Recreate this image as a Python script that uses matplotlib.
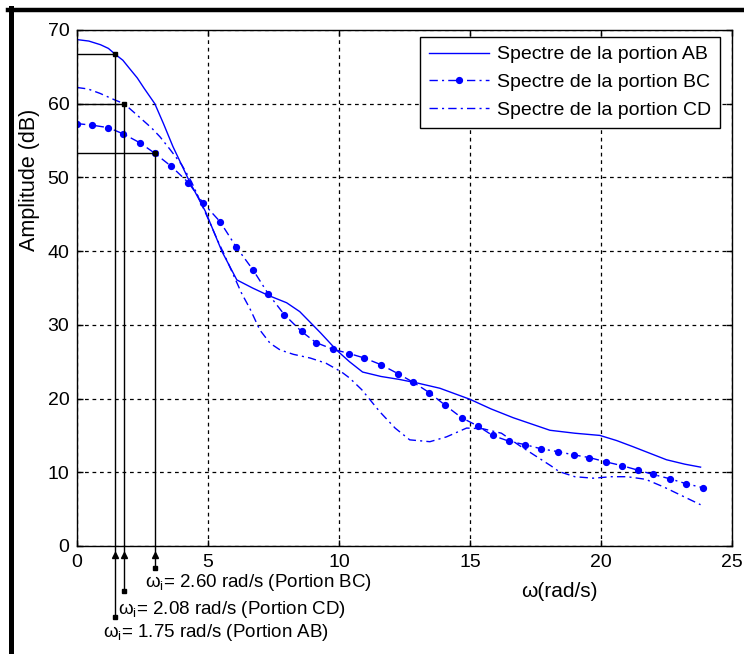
import numpy as np
import matplotlib.pyplot as plt
from matplotlib.lines import Line2D

plt.rcParams['font.family'] = ['Liberation Sans', 'DejaVu Sans']
plt.rcParams['font.size'] = 13.5
plt.rcParams['mathtext.default'] = 'regular'

# spectre AB (trait plein)
x_ab = [0, 0.45, 0.9, 1.2, 1.46, 1.75, 2.0, 2.3, 2.56, 2.97, 3.3, 3.66, 4.3, 4.9, 5.54, 6.1, 6.7,
        7.3, 8.0, 8.5, 9.3, 9.9, 10.4, 10.9, 11.6, 12.3, 13.0, 13.85, 15.0, 15.8, 16.65, 18.05,
        19.0, 19.96, 20.6, 21.2, 22.5, 23.2, 23.8]
y_ab = [68.7, 68.5, 68.0, 67.5, 66.7, 65.9, 64.8, 63.5, 62.1, 60.0, 57.3, 54.2, 49.4, 45.4, 39.9,
        36.1, 35.0, 34.0, 33.0, 31.8, 28.9, 26.6, 25.0, 23.6, 23.0, 22.6, 22.1, 21.4, 19.9,
        18.6, 17.4, 15.7, 15.3, 15.0, 14.3, 13.5, 11.7, 11.1, 10.7]

# spectre BC (points)
x_bc = [0, 0.56, 1.2, 1.77, 2.4, 2.96, 3.6, 4.25, 4.82, 5.46, 6.07, 6.73, 7.3, 7.91, 8.57,
        9.12, 9.76, 10.4, 10.97, 11.6, 12.24, 12.84, 13.45, 14.05, 14.68, 15.29, 15.86, 16.5,
        17.1, 17.7, 18.35, 18.98, 19.55, 20.2, 20.8, 21.4, 22.0, 22.65, 23.25, 23.9]
y_bc = [57.3, 57.1, 56.75, 55.9, 54.7, 53.3, 51.5, 49.3, 46.5, 44.0, 40.6, 37.4, 34.2, 31.4, 29.1,
        27.6, 26.7, 26.1, 25.5, 24.6, 23.4, 22.2, 20.8, 19.1, 17.4, 16.3, 15.0, 14.2,
        13.75, 13.2, 12.8, 12.35, 12.0, 11.4, 10.9, 10.3, 9.7, 9.1, 8.45, 7.9]

# spectre CD (tiret-point)
x_cd = [0, 0.42, 0.88, 1.45, 1.8, 2.28, 2.85, 3.17, 3.55, 4.0, 4.37, 5.08, 5.33, 5.69, 6.28,
        6.6, 6.98, 7.37, 7.75, 8.26, 8.9, 9.5, 10.1, 10.4, 10.87, 11.56, 12.14, 12.7, 13.47,
        14.1, 14.87, 15.5, 16.2, 16.9, 17.6, 18.1, 18.4, 19.0, 19.7, 20.4, 21.0, 21.7, 22.4,
        23.1, 23.8]
y_cd = [62.2, 62.0, 61.4, 60.5, 60.0, 58.5, 56.7, 55.5, 53.8, 51.7, 49.4, 43.8, 41.75, 39.0, 34.3,
        32.2, 29.3, 27.5, 26.6, 26.0, 25.5, 24.8, 23.6, 22.8, 21.2, 18.2, 16.0, 14.4, 14.15,
        14.8, 16.0, 15.9, 15.3, 13.6, 12.0, 10.85, 10.1, 9.4, 9.2, 9.4, 9.4, 9.05, 8.0,
        6.8, 5.6]

# pulsations de coupure
wi_x = [1.46, 1.80, 2.96]
wi_y = [66.7, 60.0, 53.3]
wi_txt = ['$\\omega_i$= 1.75 rad/s (Portion AB)',
          '$\\omega_i$= 2.08 rad/s (Portion CD)',
          '$\\omega_i$= 2.60 rad/s (Portion BC)']

fig = plt.figure(figsize=(7.44, 6.54), dpi=100)
ax = fig.add_axes([77/744, 1 - 546/654, 655/744, 516/654])

blue = (0, 0, 1)
ax.plot(x_ab, y_ab, '-', color=blue, lw=1.0, label='Spectre de la portion AB')
ax.plot(x_bc, y_bc, color=blue, lw=1.0, ls=(0, (6, 3, 1.5, 3)), marker='o', ms=4.2,
        label='Spectre de la portion BC')
ax.plot(x_cd, y_cd, color=blue, lw=1.0, ls=(0, (6, 3, 1.5, 3)), label='Spectre de la portion CD')

# lignes de lecture
y_end = [-9.63, -6.1, -3.0]
for x, y, ye in zip(wi_x, wi_y, y_end):
    ax.plot([0, x], [y, y], color='k', lw=1.0)
    ax.plot([x, x], [y, ye], color='k', lw=1.0, clip_on=False)
    ax.plot([x], [y], 's', color='k', ms=3.5, clip_on=False)
    ax.plot([x], [ye], 's', color='k', ms=3.5, clip_on=False)
    ax.plot([x], [-1.2], '^', color='k', ms=5, clip_on=False)

ax.text(1.0, -11.8, wi_txt[0], va='center', ha='left')
ax.text(1.56, -8.55, wi_txt[1], va='center', ha='left')
ax.text(2.6, -5.0, wi_txt[2], va='center', ha='left')

ax.set_xlim(0, 25)
ax.set_ylim(0, 70)
ax.set_xticks(range(0, 26, 5))
ax.set_yticks(range(0, 71, 10))
ax.grid(True, color='k', ls=(0, (3, 3)), lw=0.9)
ax.set_axisbelow(True)
ax.tick_params(direction='in', top=True, right=True, length=4, width=1, labelsize=14)
ax.tick_params(axis='x', pad=6)
ax.tick_params(axis='y', pad=5.5)
for s in ax.spines.values():
    s.set_linewidth(1.0)

ax.set_xlabel('ω(rad/s)', fontsize=15)
ax.xaxis.set_label_coords(0.737, -0.069)
ax.set_ylabel('Amplitude (dB)', fontsize=15.5)
ax.yaxis.set_label_coords(-0.056, 0.71)

leg = ax.legend(loc='upper right', bbox_to_anchor=(0.9817, 0.9864), borderaxespad=0,
                fancybox=False, framealpha=1, edgecolor='k', handlelength=3.1,
                handletextpad=0.4, labelspacing=0.52, borderpad=0.45, fontsize=14)
leg.get_frame().set_linewidth(1.0)

# cadre noir de la figure
fig.add_artist(Line2D([10.5/744, 10.5/744], [0, 1 - 8/654], color='k', lw=3.6))
fig.add_artist(Line2D([8/744, 1], [1 - 10/654, 1 - 10/654], color='k', lw=3.2))

fig.savefig('out.png', dpi=100)
